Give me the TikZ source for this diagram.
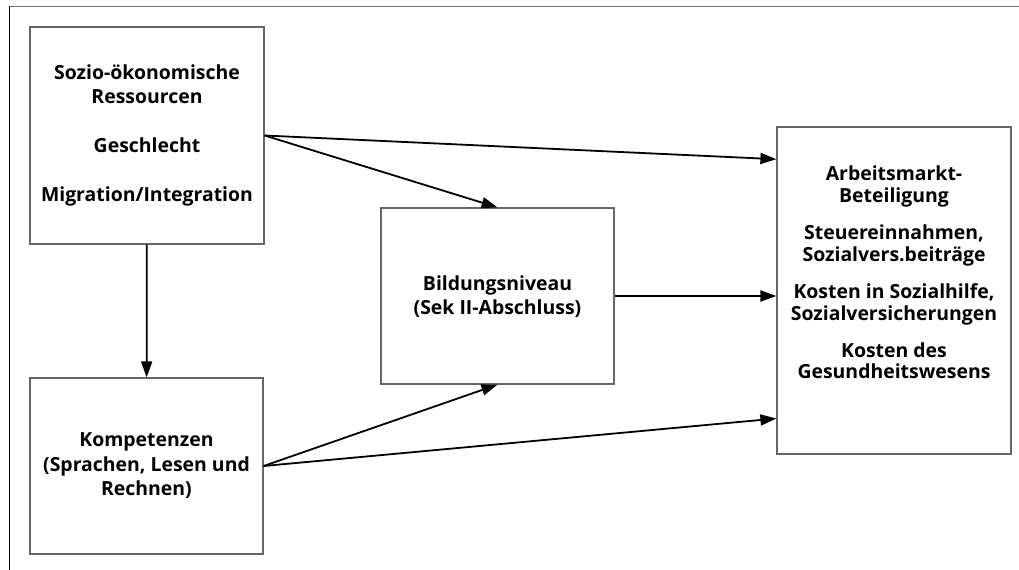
\documentclass[tikz,border=0pt]{standalone}
\usepackage{fontspec}
\setmainfont{Open Sans}
\usetikzlibrary{arrows.meta,calc}

\tikzset{
  box/.style={draw=black!60,line width=1.2bp,fill=white,inner sep=0pt},
  lbl/.style={align=center,font=\bfseries\fontsize{19.5}{24.5}\selectfont},
  wirkung/.style={draw=black,line width=1.8bp,->},
}

\begin{document}
\begin{tikzpicture}[x=1bp,y=-1bp,>={Triangle[length=16bp,width=11bp]},line join=miter]
\useasboundingbox (0,0) rectangle (1019,570);
%% frame
\coordinate (rand_0) at (9.5,570);
\coordinate (rand_1) at (9.5,6.5);
\coordinate (rand_2) at (1019,6.5);
\draw [black!55,line width=1.2bp] (rand_1) -- (rand_2);
\draw [black,line width=1.2bp] (rand_0) -- (rand_1);
%% boxes
\node (soz) at (147,135.5) [box,minimum width=234bp,minimum height=217bp] {};
\node (komp) at (146.5,466) [box,minimum width=233bp,minimum height=176bp] {};
\node (bild) at (497.5,296) [box,minimum width=233bp,minimum height=176bp] {};
\node (wirk) at (894,290.5) [box,minimum width=234bp,minimum height=327bp] {};
%% texts
\node (soz_txt) at (147,135.5) [lbl] {Sozio-ökonomische\\Ressourcen\\[24bp]Geschlecht\\[25bp]Migration/Integration};
\node (komp_txt) at (146.5,466) [lbl] {Kompetenzen\\(Sprachen, Lesen und\\Rechnen)};
\node (bild_txt) at (497.5,296.5) [lbl] {Bildungsniveau\\(Sek II-Abschluss)};
\node (wirk_txt) at (894,272.5) [lbl,font=\bfseries\fontsize{19.5}{22}\selectfont] {Arbeitsmarkt-\\Beteiligung\\[15bp]Steuereinnahmen,\\Sozialvers.beiträge\\[15bp]Kosten in Sozialhilfe,\\Sozialversicherungen\\[15bp]Kosten des\\Gesundheitswesens};
%% arrows
\draw [wirkung] (soz) -- (komp);
\draw [wirkung] (soz.east) -- (bild.north);
\draw [wirkung] (soz.east) -- ($(wirk.north west)!0.1!(wirk.south west)$);
\draw [wirkung] (bild.east) -- (bild.east -| wirk.west);
\draw [wirkung] (komp.east) -- (bild.south);
\draw [wirkung] (komp.east) -- ($(wirk.north west)!0.89!(wirk.south west)$);
%
\end{tikzpicture}
\end{document}
